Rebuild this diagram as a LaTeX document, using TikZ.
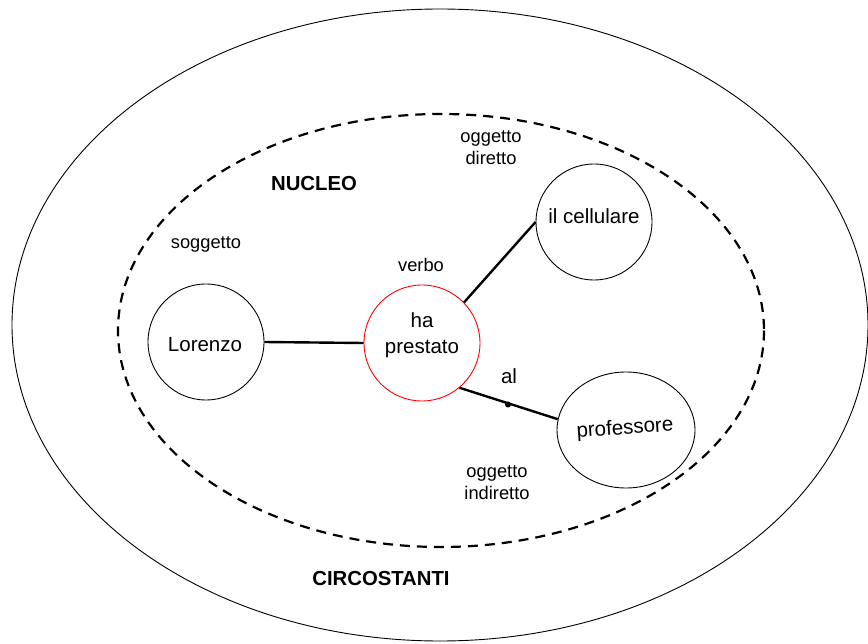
\documentclass[tikz,border=0pt]{standalone}
\usepackage{fontspec}
\setmainfont{Liberation Sans}
\usetikzlibrary{shapes.geometric}
\tikzset{
  circ/.style={draw=black, line width=0.9pt, circle, minimum size=116pt, inner sep=0pt},
  elli/.style={draw=black, line width=0.9pt, ellipse, minimum width=138pt, minimum height=116pt, inner sep=0pt},
  bigtxt/.style={font=\fontsize{20.5}{26}\selectfont, align=center, inner sep=0pt},
  smalltxt/.style={font=\fontsize{18.3}{22}\selectfont, align=center, inner sep=0pt},
  headtxt/.style={font=\fontsize{20.3}{24}\selectfont\bfseries, inner sep=0pt},
  conn/.style={line width=2.4pt},
  dashedell/.style={line width=2.2pt, dash pattern=on 10pt off 7pt}
}
\begin{document}
\begin{tikzpicture}[x=1pt,y=-1pt]
\useasboundingbox (0,0) rectangle (868,644);
\fill[white] (0,0) rectangle (868,644);
% outer ellipse
\draw[line width=0.9pt] (440,325) ellipse [x radius=428, y radius=316];
% dashed ellipse
\draw[dashedell] (441,330.5) ellipse [x radius=323, y radius=216.5];
% circles
\node[circ] (lor) at (206,342) {};
\node[circ, draw=red] (ha) at (422,343) {};
\node[circ] (cel) at (594,222) {};
\node[elli] (prof) at (626,430) {};
% texts in circles
\node[bigtxt] (tlor) at (205,345) {Lorenzo};
\node[bigtxt] (tha) at (422,335) {ha\\prestato};
\node[bigtxt] (tcel) at (594,216) {il cellulare};
\node[bigtxt, rotate=4] (tprof) at (625,429) {professore};
% connectors
\draw[conn] (lor.east) -- (ha.west);
\draw[conn] (ha.44) -- (cel.west);
\draw[conn] (ha.-50) -- (prof.171);
\node[circle, fill=black, inner sep=0pt, minimum size=6pt] (dot) at (508,404.5) {};
% labels
\node[headtxt] (nucleo) at (314,184) {NUCLEO};
\node[headtxt] (circ) at (381,579) {CIRCOSTANTI};
\node[smalltxt] (sog) at (206,244) {soggetto};
\node[smalltxt] (verbo) at (421,265) {verbo};
\node[smalltxt] (od) at (491,148) {oggetto\\diretto};
\node[smalltxt] (oi) at (497,483) {oggetto\\indiretto};
\node[bigtxt] (al) at (509,376) {al};
\end{tikzpicture}
\end{document}
